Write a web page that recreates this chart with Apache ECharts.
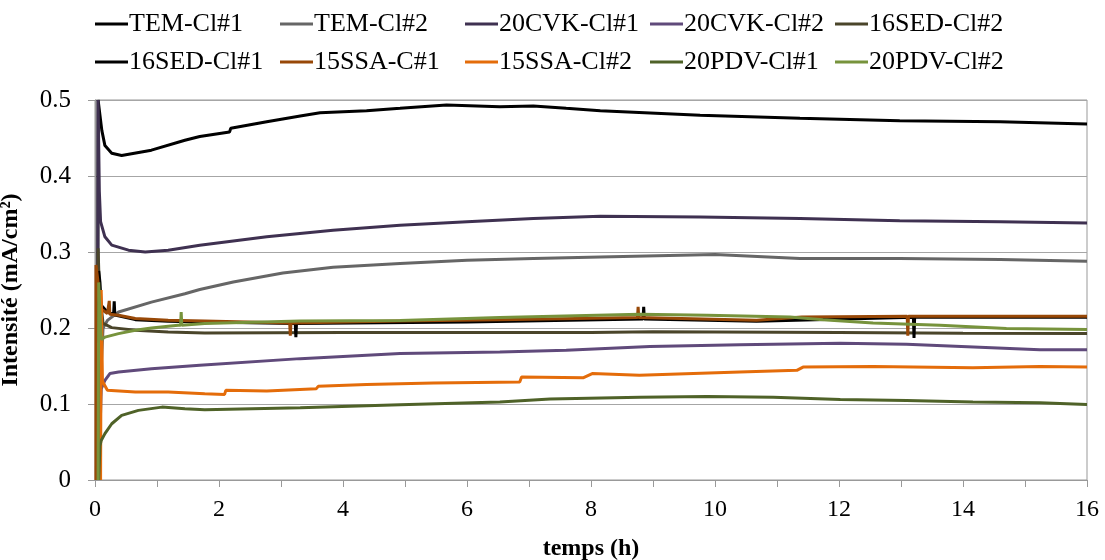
<!DOCTYPE html>
<html>
<head>
<meta charset="utf-8">
<script src="https://cdn.jsdelivr.net/npm/echarts@6/dist/echarts.min.js"></script>
<style>html,body{margin:0;padding:0;background:#fff}#c{width:1105px;height:560px}</style>
</head>
<body>
<div id="c"></div>
<script>
const seriesNames = ['TEM-Cl#1','TEM-Cl#2','20CVK-Cl#1','20CVK-Cl#2','16SED-Cl#2','16SED-Cl#1','15SSA-C#1','15SSA-Cl#2','20PDV-Cl#1','20PDV-Cl#2'];
const legendRow1 = ['TEM-Cl#1','TEM-Cl#2','20CVK-Cl#1','20CVK-Cl#2','16SED-Cl#2'];
const legendRow2 = ['16SED-Cl#1','15SSA-C#1','15SSA-Cl#2','20PDV-Cl#1','20PDV-Cl#2'];
const xTicks = [0,2,4,6,8,10,12,14,16];
const yTicks = [0,0.1,0.2,0.3,0.4,0.5];

// [time (h), intensity (mA/cm²)]
const tem1 = [[0.04,0],[0.05,0.5],[0.08,0.48],[0.11,0.46],[0.16,0.44],[0.27,0.43],[0.43,0.427],[0.91,0.434],[1.45,0.447],[1.69,0.452],[2.17,0.458],[2.19,0.4627],[2.77,0.4714],[3.31,0.479],[3.63,0.4833],[4.38,0.486],[4.92,0.489],[5.67,0.4934],[6.53,0.491],[7.07,0.492],[7.6,0.489],[8.15,0.486],[9.76,0.48],[11.37,0.476],[12.98,0.4727],[14.6,0.4714],[16,0.4684]];
const tem2 = [[0.06,0],[0.1,0.15],[0.13,0.2],[0.2,0.21],[0.38,0.221],[0.91,0.234],[1.45,0.245],[1.69,0.2506],[2.23,0.2606],[3.03,0.2725],[3.84,0.28],[4.92,0.2848],[6.0,0.289],[7.07,0.2914],[8.15,0.2935],[10.0,0.2967],[11.37,0.2914],[12.98,0.2914],[14.6,0.29],[16,0.2879]];
const cvk1 = [[0.04,0],[0.05,0.5],[0.07,0.38],[0.09,0.34],[0.16,0.32],[0.27,0.309],[0.54,0.3024],[0.81,0.3],[1.18,0.3024],[1.69,0.309],[2.77,0.32],[3.84,0.3287],[4.92,0.3353],[6.0,0.3397],[7.07,0.344],[8.15,0.347],[9.76,0.3462],[11.37,0.344],[12.98,0.341],[14.6,0.3397],[16,0.3383]];
const cvk2 = [[0.06,0],[0.1,0.12],[0.16,0.131],[0.24,0.14],[0.38,0.142],[0.91,0.1465],[1.69,0.151],[3.31,0.1597],[4.92,0.1663],[6.53,0.1684],[7.6,0.1706],[8.95,0.1755],[10.4,0.178],[12.02,0.18],[13.09,0.1785],[14.17,0.175],[15.24,0.1715],[16,0.1715]];
const sed2 = [[0.04,0],[0.05,0.305],[0.07,0.25],[0.13,0.206],[0.27,0.2005],[0.65,0.197],[1.18,0.1947],[1.77,0.1934],[4,0.194],[8,0.194],[9,0.195],[12,0.194],[14,0.193],[16,0.1926]];
const sed1 = [[0.05,0],[0.06,0.275],[0.08,0.26],[0.1,0.23],[0.2,0.221],[0.3,0.218],[0.31,0.235],[0.32,0.217],[0.65,0.211],[1.18,0.209],[1.77,0.208],[3.23,0.206],[3.24,0.188],[3.25,0.206],[6,0.208],[8.84,0.212],[8.85,0.228],[8.86,0.212],[10.67,0.209],[13.2,0.214],[13.21,0.187],[13.22,0.214],[16,0.214]];
const ssa1 = [[0.015,0],[0.016,0.283],[0.05,0.26],[0.07,0.235],[0.1,0.225],[0.2,0.219],[0.22,0.219],[0.23,0.2356],[0.24,0.218],[0.38,0.2167],[0.65,0.2124],[1.18,0.2101],[1.77,0.2092],[3.14,0.2066],[3.15,0.19],[3.16,0.2066],[4.92,0.2092],[6.53,0.211],[8.75,0.2137],[8.76,0.2277],[8.77,0.2137],[10.67,0.2101],[11.4,0.2144],[13.1,0.2154],[13.11,0.19],[13.12,0.2154],[16,0.2154]];
const ssa2 = [[0.09,0],[0.1,0.25],[0.12,0.13],[0.2,0.118],[0.65,0.1157],[1.18,0.1157],[1.77,0.1136],[2.09,0.1126],[2.11,0.118],[2.77,0.117],[3.57,0.1202],[3.6,0.1232],[4.38,0.1258],[5.46,0.1275],[6.85,0.1289],[6.88,0.1354],[7.88,0.1347],[8.02,0.14],[8.78,0.1377],[10.4,0.142],[11.32,0.1443],[11.42,0.1486],[12.55,0.1495],[14.16,0.1478],[15.24,0.1495],[16,0.1486]];
const pdv1 = [[0.06,0],[0.08,0.045],[0.1,0.052],[0.16,0.061],[0.27,0.074],[0.43,0.085],[0.7,0.0916],[1.08,0.0959],[1.45,0.0938],[1.77,0.0925],[3.31,0.0951],[4.92,0.099],[6.53,0.1025],[7.34,0.1065],[8.79,0.109],[9.87,0.11],[10.94,0.109],[12.02,0.106],[13.09,0.1047],[14.16,0.1025],[15.24,0.1017],[16,0.0995]];
const pdv2 = [[0.05,0],[0.06,0.26],[0.09,0.2],[0.1,0.185],[0.16,0.188],[0.38,0.1926],[0.65,0.197],[0.91,0.2],[1.34,0.2035],[1.38,0.2035],[1.39,0.221],[1.4,0.2035],[1.77,0.2058],[3.31,0.2092],[4.92,0.21],[6.53,0.2137],[8.79,0.218],[9.87,0.2167],[11.21,0.2145],[11.74,0.211],[12.55,0.2066],[13.63,0.2035],[14.7,0.1992],[16,0.1979]];

const seriesData = [tem1, tem2, cvk1, cvk2, sed2, sed1, ssa1, ssa2, pdv1, pdv2];
const seriesColors = ['#000000','#666666','#3F3151','#604A7B','#4A452A','#000000','#984807','#E46C0A','#4F6228','#77933C'];

const FONT = '"Liberation Serif", "Times New Roman", serif';

const chart = echarts.init(document.getElementById('c'), null, {renderer: 'canvas'});
const legends = [];
[legendRow1, legendRow2].forEach((row, r) => {
  row.forEach((name, c) => {
    legends.push({
      left: 95 + c * 185, top: r === 0 ? 11 : 49,
      data: [name], icon: 'rect', itemWidth: 33, itemHeight: 3, itemGap: 0,
      padding: 0, selectedMode: false,
      textStyle: {fontFamily: FONT, fontSize: 26, color: '#000', padding: [0,0,0,-4]}
    });
  });
});
chart.setOption({
  animation: false,
  color: seriesColors,
  legend: legends,
  grid: {left: 95, right: 18, top: 100, bottom: 80, containLabel: false, outerBoundsMode: 'none',
    show: true, borderColor: '#999', borderWidth: 1, backgroundColor: 'transparent'},
  xAxis: {
    type: 'value', min: 0, max: 16, interval: 2,
    name: 'temps (h)', nameLocation: 'middle', nameGap: 57,
    nameTextStyle: {fontFamily: FONT, fontSize: 24, fontWeight: 'bold', color: '#000'},
    axisLine: {show: true, lineStyle: {color: '#999', width: 1}},
    axisTick: {show: true, inside: false, length: 7, lineStyle: {color: '#999'}},
    minorTick: {show: true, splitNumber: 2, length: 7, lineStyle: {color: '#999'}},
    axisLabel: {fontFamily: FONT, fontSize: 24, color: '#000', margin: 18,
      customValues: xTicks},
    splitLine: {show: false}
  },
  yAxis: {
    type: 'value', min: 0, max: 0.5, interval: 0.1,
    name: 'Intensité (mA/cm²)', nameLocation: 'middle', nameGap: 72, nameRotate: 90,
    nameTextStyle: {fontFamily: FONT, fontSize: 24, fontWeight: 'bold', color: '#000'},
    axisLine: {show: true, lineStyle: {color: '#999', width: 1}},
    axisTick: {show: true, inside: false, length: 7, lineStyle: {color: '#999'}},
    axisLabel: {fontFamily: FONT, fontSize: 25, color: '#000', margin: 24,
      formatter: v => String(yTicks.find(t => Math.abs(t - v) < 1e-9) ?? v)},
    splitLine: {show: true, lineStyle: {color: '#A6A6A6', width: 1}}
  },
  series: seriesNames.map((n, i) => ({
    name: n, type: 'line', data: seriesData[i], showSymbol: false, symbol: 'none',
    lineStyle: {width: 3, color: seriesColors[i]}, itemStyle: {color: seriesColors[i]},
    clip: true, z: 2 + i
  }))
});
</script>
</body>
</html>
